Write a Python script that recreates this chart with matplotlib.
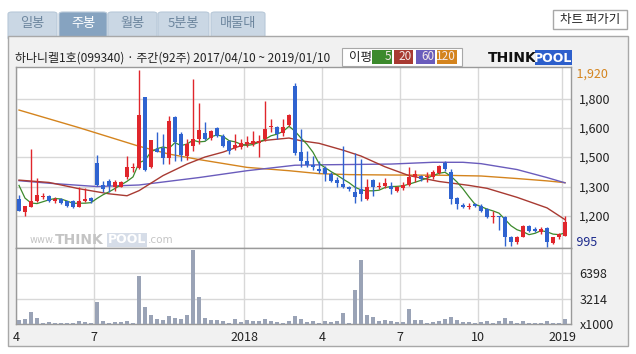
import matplotlib
matplotlib.use("Agg")
import matplotlib.pyplot as plt
import matplotlib.patches as mpatches
import matplotlib.transforms as mtransforms
import numpy as np
import pandas as pd

plt.rcParams['font.family'] = ['Noto Sans CJK KR', 'DejaVu Sans']

# weekly candles 2017/04/10 ~ 2019/01/07 (92 weeks)
opens = [1245, 1181, 1206, 1237, 1254, 1262, 1237, 1245, 1234, 1234,
         1206, 1234, 1249, 1428, 1317, 1339, 1309, 1309, 1356, 1402,
         1402, 1765, 1407, 1501, 1504, 1453, 1666, 1577, 1467, 1518,
         1552, 1583, 1557, 1606, 1565, 1543, 1504, 1509, 1526, 1526,
         1530, 1552, 1611, 1611, 1583, 1623, 1824, 1484, 1441, 1419,
         1399, 1402, 1373, 1344, 1322, 1309, 1279, 1297, 1245, 1342,
         1305, 1314, 1314, 1285, 1302, 1319, 1356, 1365, 1356, 1359,
         1377, 1428, 1382, 1251, 1217, 1206, 1220, 1212, 1194, 1152,
         1160, 1155, 1053, 1024, 1053, 1109, 1092, 1075, 1097, 1021,
         1050, 1058]
highs = [1266, 1212, 1501, 1351, 1274, 1268, 1254, 1251, 1237, 1240,
         1305, 1302, 1257, 1472, 1339, 1348, 1342, 1336, 1467, 1428,
         1904, 1768, 1547, 1586, 1577, 1671, 1671, 1586, 1552, 1858,
         1734, 1637, 1598, 1611, 1577, 1547, 1577, 1552, 1569, 1594,
         1572, 1748, 1654, 1620, 1654, 1680, 1836, 1603, 1492, 1467,
         1441, 1416, 1382, 1356, 1518, 1314, 1479, 1450, 1348, 1348,
         1331, 1351, 1331, 1314, 1331, 1407, 1394, 1368, 1382, 1394,
         1419, 1438, 1399, 1257, 1223, 1223, 1223, 1220, 1200, 1183,
         1160, 1160, 1058, 1058, 1114, 1113, 1101, 1104, 1101, 1053,
         1070, 1160]
lows = [1183, 1160, 1203, 1228, 1245, 1230, 1223, 1220, 1206, 1198,
        1203, 1228, 1223, 1314, 1279, 1279, 1288, 1305, 1348, 1382,
        1399, 1390, 1404, 1484, 1424, 1424, 1441, 1441, 1445, 1489,
        1526, 1547, 1547, 1564, 1509, 1475, 1496, 1501, 1509, 1518,
        1458, 1543, 1586, 1552, 1569, 1620, 1472, 1407, 1407, 1394,
        1377, 1339, 1331, 1305, 1302, 1288, 1223, 1237, 1240, 1262,
        1297, 1302, 1271, 1279, 1291, 1314, 1331, 1336, 1331, 1348,
        1373, 1387, 1220, 1194, 1200, 1194, 1206, 1177, 1148, 1121,
        1087, 1007, 1007, 1016, 1050, 1075, 1075, 1067, 1002, 1016,
        1041, 1055]
closes = [1186, 1212, 1234, 1264, 1262, 1234, 1245, 1223, 1212, 1203,
          1237, 1245, 1237, 1319, 1297, 1312, 1331, 1331, 1407, 1410,
          1675, 1394, 1547, 1487, 1453, 1642, 1538, 1472, 1526, 1552,
          1598, 1552, 1591, 1569, 1518, 1489, 1521, 1531, 1535, 1543,
          1543, 1603, 1618, 1577, 1611, 1675, 1479, 1441, 1419, 1407,
          1390, 1373, 1339, 1329, 1305, 1298, 1257, 1271, 1305, 1305,
          1314, 1325, 1297, 1309, 1319, 1356, 1373, 1348, 1365, 1382,
          1416, 1399, 1245, 1220, 1206, 1212, 1210, 1186, 1155, 1160,
          1155, 1050, 1024, 1053, 1109, 1080, 1084, 1092, 1024, 1050,
          1067, 1126]
# volume, x1000 shares
volumes = [470, 600, 1540, 730, 170, 260, 130, 130, 130, 130,
           340, 260, 170, 2820, 380, 130, 260, 260, 380, 170,
           6020, 2180, 1150, 640, 510, 980, 730, 640, 1150, 9350,
           3460, 730, 510, 510, 380, 130, 640, 260, 510, 380,
           380, 640, 380, 260, 130, 380, 1020, 600, 260, 380,
           130, 380, 300, 380, 1410, 130, 4350, 8070, 1150, 900,
           380, 510, 380, 260, 260, 1920, 510, 510, 130, 260,
           380, 640, 900, 510, 260, 260, 130, 260, 380, 130,
           380, 770, 380, 130, 380, 130, 130, 130, 380, 130,
           130, 640]

ma5_head = [1315, 1250, 1225, 1222]
ma20_x = [0, 5, 10, 15, 18, 20, 24, 28, 31, 34, 37, 41, 45, 47, 50, 54, 57, 61, 65, 70, 75, 78, 83, 88, 91]
ma20_y = [1342, 1330, 1298, 1272, 1262, 1288, 1365, 1424, 1460, 1485, 1518, 1545, 1557, 1543,
          1530, 1495, 1465, 1410, 1365, 1335, 1315, 1300, 1254, 1200, 1140]
ma60_x = [0, 5, 13, 20, 30, 38, 46, 50, 62, 69, 74, 77, 83, 88, 91]
ma60_y = [1339, 1326, 1309, 1317, 1355, 1390, 1418, 1420, 1424, 1433, 1433, 1426, 1396, 1355, 1328]
ma120_x = [0, 10, 20, 25, 30, 38, 45, 50, 55, 62, 70, 77, 83, 88, 91]
ma120_y = [1700, 1610, 1515, 1475, 1447, 1407, 1390, 1375, 1370, 1368, 1367, 1363, 1350, 1338, 1329]

month_starts = [0, 13, 38, 51, 64, 77, 91]
month_labels = ['4', '7', '2018', '4', '7', '10', '2019']
price_grid = [1757, 1608, 1460, 1307, 1159]
price_grid_labels = ['1,800', '1,600', '1,500', '1,300', '1,200']
vol_grid = [0, 3214, 6398]
vol_grid_labels = ['x1000', '3214', '6398']

tabs = ['일봉', '주봉', '월봉', '5분봉', '매물대']
ma_names = ['5', '20', '60', '120']

W, H = 636, 354
UP, DOWN = '#e0262c', '#2f63d0'
MA_COLORS = ['#3c8a2c', '#a83a32', '#6a5cbc', '#d4841e']
GRID = '#d8d8d8'


def box(fig, x0, y0, x1, y1, **kw):
    fig.add_artist(mpatches.Rectangle((x0 / W, 1 - y1 / H), (x1 - x0) / W, (y1 - y0) / H,
                                      transform=fig.transFigure, **kw))


def txt(fig, x, y, s, **kw):
    fig.text(x / W, 1 - y / H, s, **kw)


fig = plt.figure(figsize=(W / 100, H / 100), dpi=100)
fig.patch.set_facecolor('white')

# tabs
tab_x = [(8, 57), (59, 107), (108, 157), (158, 209), (211, 265)]
for k, (name, (x0, x1)) in enumerate(zip(tabs, tab_x)):
    sel = (name == '주봉')
    fig.add_artist(mpatches.FancyBboxPatch((x0 / W, 1 - 40 / H), (x1 - x0) / W, 28 / H,
                                           boxstyle='round,pad=0,rounding_size=0.006',
                                           transform=fig.transFigure, zorder=-3,
                                           facecolor='#86a3c0' if sel else '#cad7e4',
                                           edgecolor='#b8c8d8', lw=0.8))
    txt(fig, (x0 + x1) / 2, 24, name, ha='center', va='center', fontsize=9.5,
        color='white' if sel else '#6d869e')

# button
box(fig, 553, 10, 627, 29, facecolor='white', edgecolor='#a8a8a8', lw=1, zorder=-3)
txt(fig, 590, 19.5, '차트 퍼가기', ha='center', va='center', fontsize=9, color='#222222')

# outer panel
box(fig, 8, 36, 628, 346, facecolor='#f1f1f1', edgecolor='#a8a8a8', lw=1, zorder=-2)

txt(fig, 15, 58, '하나니켈1호(099340) · 주간(92주) 2017/04/10 ~ 2019/01/10',
    ha='left', va='center', fontsize=8.6, color='#222222')

# MA legend
box(fig, 342, 48, 462, 66, facecolor='white', edgecolor='#a8a8a8', lw=0.8, zorder=1)
txt(fig, 360, 57, '이평', ha='center', va='center', fontsize=9, color='#222222')
leg_x = [(372, 392), (394, 413), (416, 435), (437, 457)]
for name, c, (x0, x1) in zip(ma_names, MA_COLORS, leg_x):
    box(fig, x0, 50, x1, 64, facecolor=c, edgecolor='none', zorder=2)
    txt(fig, x1 - 1, 57, name, ha='right', va='center', fontsize=8.5, color='#f4e8e8', zorder=3)

# logo
txt(fig, 488, 58, 'THINK', ha='left', va='center', fontsize=10, fontweight='bold',
    family='DejaVu Sans', color='#111111')
box(fig, 535, 50, 572, 65, facecolor='#2d5fcc', edgecolor='none', zorder=1)
txt(fig, 553.5, 58, 'POOL', ha='center', va='center', fontsize=9, fontweight='bold',
    family='DejaVu Sans', color='white', zorder=3)

# chart axes
ax = fig.add_axes([16 / W, 1 - 248 / H, 555 / W, 181 / H])
axv = fig.add_axes([16 / W, 1 - 324 / H, 555 / W, 76 / H], sharex=ax)

x = np.arange(len(closes))
o = np.array(opens)
c = np.array(closes)
colors = [UP if cc >= oo else DOWN for oo, cc in zip(o, c)]

# moving averages
ma5 = pd.Series(closes).rolling(5).mean().to_numpy()
ma5[:4] = ma5_head
ax.plot(ma120_x, ma120_y, color=MA_COLORS[3], lw=1, zorder=2)
ax.plot(ma60_x, ma60_y, color=MA_COLORS[2], lw=1, zorder=2)
ax.plot(ma20_x, ma20_y, color=MA_COLORS[1], lw=1, zorder=2)
ax.plot(x, ma5, color=MA_COLORS[0], lw=0.9, zorder=2)

ax.vlines(x, lows, highs, colors=colors, lw=1, zorder=3)
body = np.maximum(np.abs(c - o), 5)
ax.bar(x, body, bottom=np.minimum(o, c), width=0.72, color=colors, lw=0, zorder=4)

axv.bar(x, volumes, width=0.7, color='#9aa3b6', lw=0, zorder=3)

ax.set_xlim(-0.5, 92)
ax.set_ylim(995, 1920)
axv.set_ylim(0, 9600)

for a in (ax, axv):
    a.set_facecolor('white')
    a.set_xticks([m - 0.5 for m in month_starts])
    a.grid(True, color=GRID, lw=1, zorder=0)
    a.set_axisbelow(True)
    for s in a.spines.values():
        s.set_color('#9a9a9a')
        s.set_linewidth(1)
    a.tick_params(axis='y', left=False, labelleft=False, right=True, labelright=True,
                  length=0, pad=6, labelsize=9, labelcolor='#222222')
    a.tick_params(axis='x', length=0, pad=5, labelsize=9, labelcolor='#222222')

ax.set_yticks(price_grid)
ax.set_yticklabels(price_grid_labels)
ax.tick_params(axis='x', labelbottom=False)
axv.set_yticks(vol_grid)
axv.set_yticklabels(vol_grid_labels)
axv.set_xticklabels(month_labels)

# top / bottom price labels
tr = mtransforms.blended_transform_factory(ax.transAxes, ax.transData)
ax.text(1.0, 1884, '  1,920', transform=tr, ha='left', va='center', fontsize=9, color='#d4841e')
ax.text(1.0, 1021, '  995', transform=tr, ha='left', va='center', fontsize=9, color='#1c2a8c')

# watermark
wm = dict(transform=ax.transAxes, va='center', color='#c4c4c4', family='DejaVu Sans')
ax.text(0.025, 0.045, 'www.', fontsize=7, **wm)
ax.text(0.07, 0.045, 'THINK', fontsize=10, fontweight='bold', **wm)
ax.text(0.165, 0.045, 'POOL', fontsize=9, fontweight='bold',
        bbox=dict(facecolor='#d6dde8', edgecolor='none', pad=0.5),
        **{k: v for k, v in wm.items() if k != 'color'}, color='white')
ax.text(0.237, 0.045, '.com', fontsize=7.5, **wm)

fig.savefig('out.png', dpi=100)
